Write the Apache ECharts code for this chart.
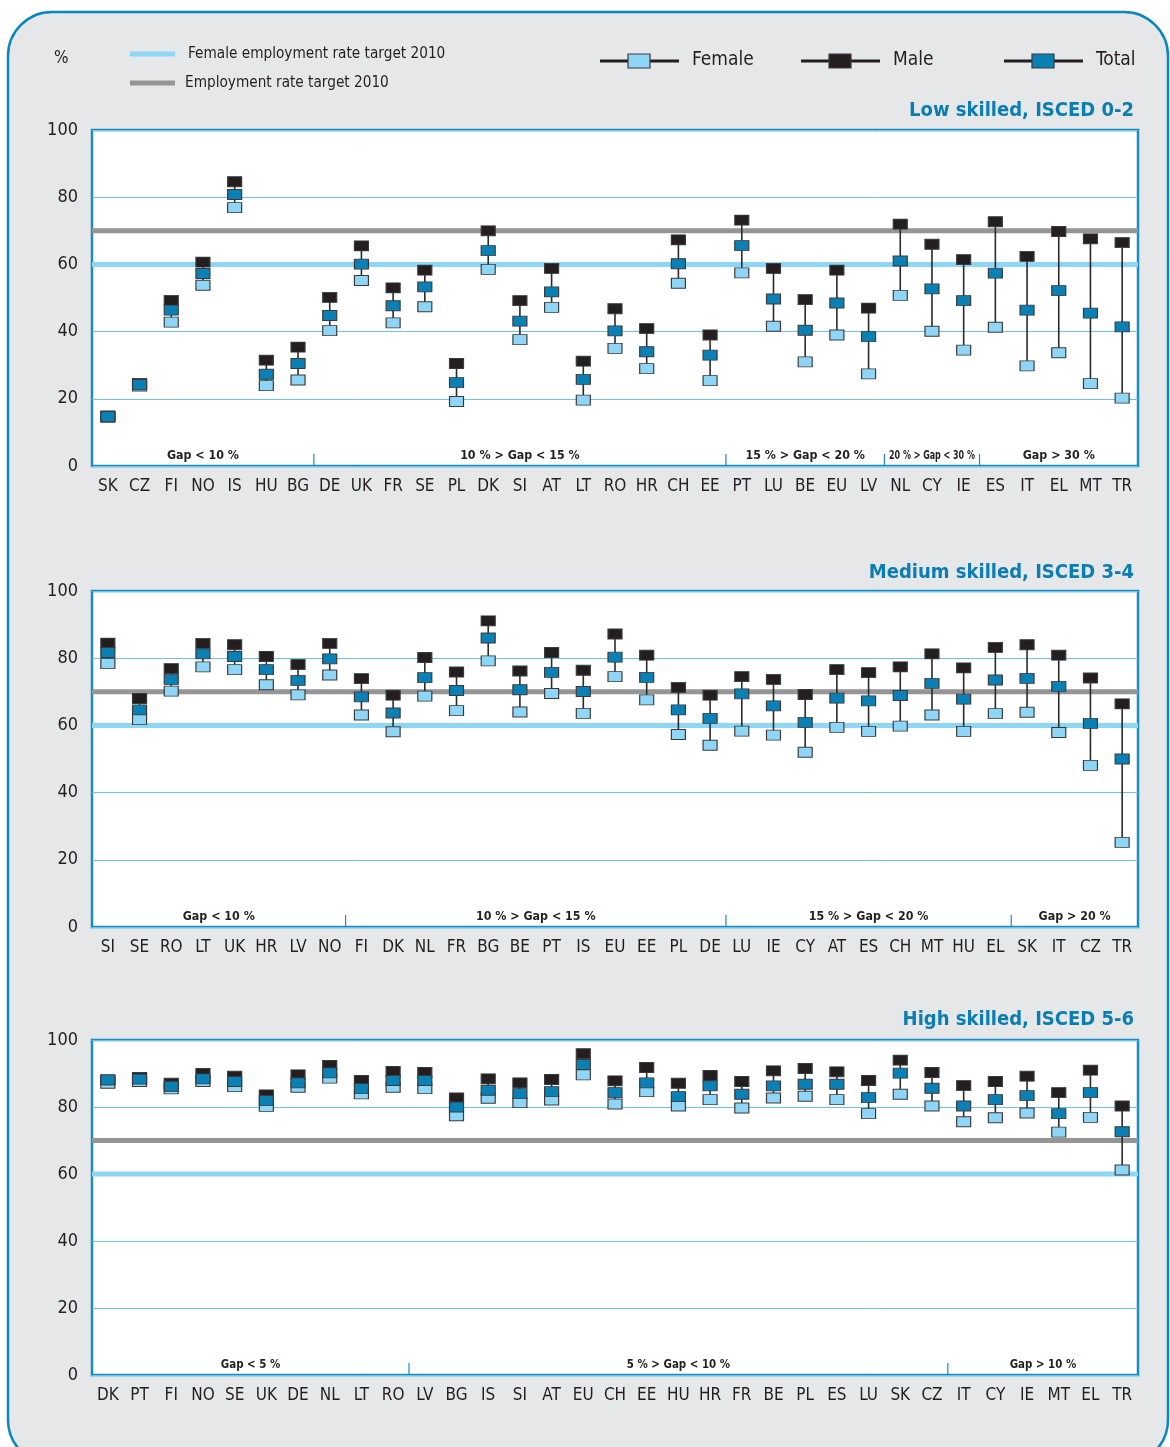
<!DOCTYPE html>
<html><head><meta charset="utf-8">
<script src="https://cdn.jsdelivr.net/npm/echarts@6/dist/echarts.min.js"></script>
<style>html,body{margin:0;padding:0;background:#fff}#c{width:1170px;height:1447px}</style>
</head><body><div id="c"></div>
<script>
// ---------- DATA ----------
const lowCats    = ['SK','CZ','FI','NO','IS','HU','BG','DE','UK','FR','SE','PL','DK','SI','AT','LT','RO','HR','CH','EE','PT','LU','BE','EU','LV','NL','CY','IE','ES','IT','EL','MT','TR'];
const lowFemale  = [14.5,23.8,42.8,53.8,76.9,23.9,25.6,40.3,55.2,42.6,47.4,19.2,58.5,37.6,47.2,19.6,35.0,29.0,54.4,25.4,57.5,41.6,31.0,39.0,27.4,50.8,40.1,34.5,41.3,29.8,33.7,24.5,20.2];
const lowMale    = [14.9,24.6,49.3,60.7,84.6,31.5,35.4,50.2,65.5,53.0,58.3,30.5,70.0,49.2,58.8,31.2,46.8,40.9,67.3,39.0,73.2,58.8,49.5,58.3,47.0,72.0,66.0,61.4,72.7,62.4,69.8,67.6,66.5];
const lowTotal   = [14.7,24.2,46.4,57.3,80.8,27.3,30.5,44.8,60.1,47.7,53.3,24.8,64.1,43.1,51.8,25.8,40.2,34.0,60.2,33.0,65.6,49.7,40.4,48.5,38.5,61.0,52.7,49.2,57.4,46.4,52.2,45.5,41.4];
const lowGroups  = [['Gap < 10 %',0,7],['10 % > Gap < 15 %',7,20],['15 % > Gap < 20 %',20,25],['20 % > Gap < 30 %',25,28],['Gap > 30 %',28,33]];

const medCats    = ['SI','SE','RO','LT','UK','HR','LV','NO','FI','DK','NL','FR','BG','BE','PT','IS','EU','EE','PL','DE','LU','IE','CY','AT','ES','CH','MT','HU','EL','SK','IT','CZ','TR'];
const medFemale  = [78.4,61.7,70.2,77.4,76.6,72.1,69.1,75.0,63.1,58.1,68.7,64.4,79.2,64.0,69.5,63.6,74.5,67.6,57.3,54.1,58.3,57.1,52.0,59.4,58.2,59.8,63.1,58.2,63.5,63.9,57.9,48.1,25.2];
const medMale    = [84.5,68.0,76.9,84.4,84.0,80.5,78.1,84.4,73.9,69.0,80.2,75.9,91.1,76.2,81.7,76.4,87.2,80.9,71.3,69.0,74.5,73.7,69.2,76.6,75.7,77.4,81.3,77.1,83.2,84.0,80.9,74.1,66.4];
const medTotal   = [81.7,64.6,73.7,81.3,80.5,76.6,73.4,79.8,68.5,63.7,74.2,70.4,86.0,70.6,75.8,70.1,80.3,74.3,64.6,62.1,69.4,65.8,60.9,68.1,67.3,68.9,72.5,67.8,73.5,74.0,71.6,60.6,50.0];
const medGroups  = [['Gap < 10 %',0,8],['10 % > Gap < 15 %',8,20],['15 % > Gap < 20 %',20,29],['Gap > 20 %',29,33]];

const highCats   = ['DK','PT','FI','NO','SE','UK','DE','NL','LT','RO','LV','BG','IS','SI','AT','EU','CH','EE','HU','HR','FR','BE','PL','ES','LU','SK','CZ','IT','CY','IE','MT','EL','TR'];
const highFemale = [87.1,87.6,85.4,87.6,86.1,80.2,85.9,88.6,83.9,85.9,85.5,77.4,82.6,81.3,82.1,89.6,80.9,84.6,80.3,82.2,79.7,82.7,83.2,82.2,78.0,83.8,80.3,75.6,76.8,78.2,72.5,76.9,61.2];
const highMale   = [88.1,88.8,87.1,90.0,89.2,83.6,89.6,92.4,87.9,90.6,90.3,82.7,88.4,87.2,88.2,95.9,87.8,91.8,87.1,89.4,87.6,90.8,91.5,90.5,87.9,94.0,90.3,86.4,87.6,89.2,84.3,91.0,80.3];
const highTotal  = [88.1,88.3,86.2,88.4,87.6,81.9,87.2,90.2,85.5,87.9,87.9,80.0,85.0,84.0,84.6,92.7,84.3,87.2,83.1,86.3,83.8,86.3,86.8,86.8,82.8,90.1,85.6,80.3,82.2,83.4,78.0,84.3,72.6];
const highGroups = [['Gap < 5 %',0,10],['5 % > Gap < 10 %',10,27],['Gap > 10 %',27,33]];

const yTicks = [0,20,40,60,80,100];
const targets = [['Employment rate target 2010',70],['Female employment rate target 2010',60]];
const panelTitles = ['Low skilled, ISCED 0-2','Medium skilled, ISCED 3-4','High skilled, ISCED 5-6'];

// ---------- STYLE ----------
const FONT = "'Liberation Sans Narrow','DejaVu Sans Condensed','Arial Narrow','Liberation Sans',sans-serif";
const C_FEM = '#8fd6f6', C_MALE = '#231f20', C_TOT = '#0a80b5', C_BORDER = '#1a8cc4';
const C_GRID = '#6cc3e8', C_TXT = '#231f20';
const TARGET_COLORS = {70:'#959595', 60:'#8dd6f5'};

const panels = [
  {cats: lowCats,  f: lowFemale,  m: lowMale,  t: lowTotal,  groups: lowGroups,  top: 130, height: 336, titleTop: 96,  gapFont: 13},
  {cats: medCats,  f: medFemale,  m: medMale,  t: medTotal,  groups: medGroups,  top: 591, height: 336, titleTop: 558, gapFont: 13},
  {cats: highCats, f: highFemale, m: highMale, t: highTotal, groups: highGroups, top: 1040, height: 335, titleTop: 1005, gapFont: 12}
];

const grid = [], xAxis = [], yAxis = [], series = [], title = [];
panels.forEach((p, i) => {
  grid.push({left: 92, right: 32, top: p.top, height: p.height, show: true, backgroundColor: '#fff', borderColor: C_BORDER, borderWidth: 2.5});
  title.push({text: panelTitles[i], right: 31, top: p.titleTop, textStyle: {fontFamily: FONT, fontSize: 20, fontWeight: 'bold', color: '#0a7db3'}});
  xAxis.push({type: 'category', gridIndex: i, data: p.cats, boundaryGap: true,
    axisLine: {show: false}, axisTick: {show: false},
    axisLabel: {interval: 0, margin: 12, fontFamily: FONT, fontSize: 17, color: C_TXT}});
  yAxis.push({type: 'value', gridIndex: i, min: 0, max: 100, interval: 20,
    axisLine: {show: false}, axisTick: {show: false},
    axisLabel: {margin: 14, fontFamily: FONT, fontSize: 18, color: C_TXT},
    splitLine: {lineStyle: {color: C_GRID, width: 1}}});
});
// hidden value axes for gap-group annotations
panels.forEach((p, i) => {
  xAxis.push({type: 'value', gridIndex: i, min: 0, max: p.cats.length, show: false});
});

panels.forEach((p, i) => {
  // target lines
  series.push({type: 'custom', xAxisIndex: i, yAxisIndex: i, z: 1, silent: true,
    data: targets.map(t => [0, t[1]]),
    encode: {x: -1, y: 1},
    renderItem: (params, api) => {
      const cs = params.coordSys; const v = api.value(1); const y = api.coord([0, v])[1];
      return {type: 'line', shape: {x1: cs.x, y1: y, x2: cs.x + cs.width, y2: y},
        style: {stroke: TARGET_COLORS[v], lineWidth: 5}};
    }});
  // connectors female-male
  series.push({type: 'custom', xAxisIndex: i, yAxisIndex: i, z: 2, silent: true,
    data: p.cats.map((c, k) => [k, Math.min(p.f[k], p.m[k]), Math.max(p.f[k], p.m[k])]),
    encode: {x: 0, y: [1, 2]},
    renderItem: (params, api) => {
      const a = api.coord([api.value(0), api.value(1)]); const b = api.coord([api.value(0), api.value(2)]);
      return {type: 'line', shape: {x1: a[0], y1: a[1], x2: b[0], y2: b[1]}, style: {stroke: '#2a2a2a', lineWidth: 1.6}};
    }});
  const mk = (name, vals, color, z) => ({
    name, type: 'scatter', xAxisIndex: i, yAxisIndex: i, z,
    symbol: 'rect', symbolSize: [14, 10],
    itemStyle: {color, borderColor: '#3a3a3a', borderWidth: 1, opacity: 1},
    data: vals.map((v, k) => [k, v])
  });
  series.push(mk('Female', p.f, C_FEM, 3));
  series.push(mk('Male', p.m, C_MALE, 4));
  series.push(mk('Total', p.t, C_TOT, 5));
  // gap group labels and dividers
  series.push({type: 'custom', xAxisIndex: panels.length + i, yAxisIndex: i, z: 6, silent: true,
    data: p.groups.map(g => [g[1], g[2], 0]),
    encode: {x: [0, 1], y: 2},
    renderItem: (params, api) => {
      const cs = params.coordSys; const g = p.groups[params.dataIndex];
      const x0 = api.coord([api.value(0), 0])[0], x1 = api.coord([api.value(1), 0])[0];
      const bottom = cs.y + cs.height;
      const narrow = (x1 - x0) < 110;
      const cx = (x0 + x1) / 2;
      const children = [{type: 'text', x: cx, y: bottom - 10, scaleX: narrow ? 0.74 : 0.95, originX: 0, originY: 0,
        style: {text: g[0], fill: C_TXT, font: 'bold ' + (narrow ? 12 : p.gapFont) + 'px ' + FONT, align: 'center', verticalAlign: 'middle'}}];
      if (api.value(0) > 0) children.push({type: 'line', shape: {x1: x0, y1: bottom, x2: x0, y2: bottom - 12}, style: {stroke: C_BORDER, lineWidth: 1.2}});
      return {type: 'group', children};
    }});
});

// ---------- legend / frame graphics ----------
const legendItems = [['Female', C_FEM, 600], ['Male', C_MALE, 801], ['Total', C_TOT, 1004]];
const graphic = [
  {type: 'rect', z: -10, shape: {x: 8, y: 12, width: 1160, height: 1452, r: 44},
   style: {fill: '#e6e7e9', stroke: '#0a87c0', lineWidth: 2.5}},
  {type: 'text', x: 54, y: 50, style: {text: '%', fill: C_TXT, font: '17px ' + FONT}},
  {type: 'line', shape: {x1: 130, y1: 54, x2: 175, y2: 54}, style: {stroke: TARGET_COLORS[60], lineWidth: 5}},
  {type: 'text', x: 188, y: 46, scaleX: 0.95, style: {text: targets[1][0], fill: C_TXT, font: '16px ' + FONT}},
  {type: 'line', shape: {x1: 130, y1: 83, x2: 175, y2: 83}, style: {stroke: TARGET_COLORS[70], lineWidth: 5}},
  {type: 'text', x: 185, y: 75, scaleX: 0.95, style: {text: targets[0][0], fill: C_TXT, font: '16px ' + FONT}}
];
legendItems.forEach(([name, color, x]) => {
  graphic.push({type: 'line', shape: {x1: x, y1: 61, x2: x + 79, y2: 61}, style: {stroke: '#231f20', lineWidth: 3}});
  graphic.push({type: 'rect', shape: {x: x + 28, y: 54, width: 22, height: 14}, style: {fill: color, stroke: '#3a3a3a', lineWidth: 1.2}});
  graphic.push({type: 'text', x: x + 92, y: 51, style: {text: name, fill: C_TXT, font: '19px ' + FONT}});
});

const chart = echarts.init(document.getElementById('c'), null, {renderer: 'canvas'});
chart.setOption({
  backgroundColor: '#fff',
  animation: false,
  textStyle: {fontFamily: FONT},
  title, grid, xAxis, yAxis, series, graphic
});
</script>
</body></html>
